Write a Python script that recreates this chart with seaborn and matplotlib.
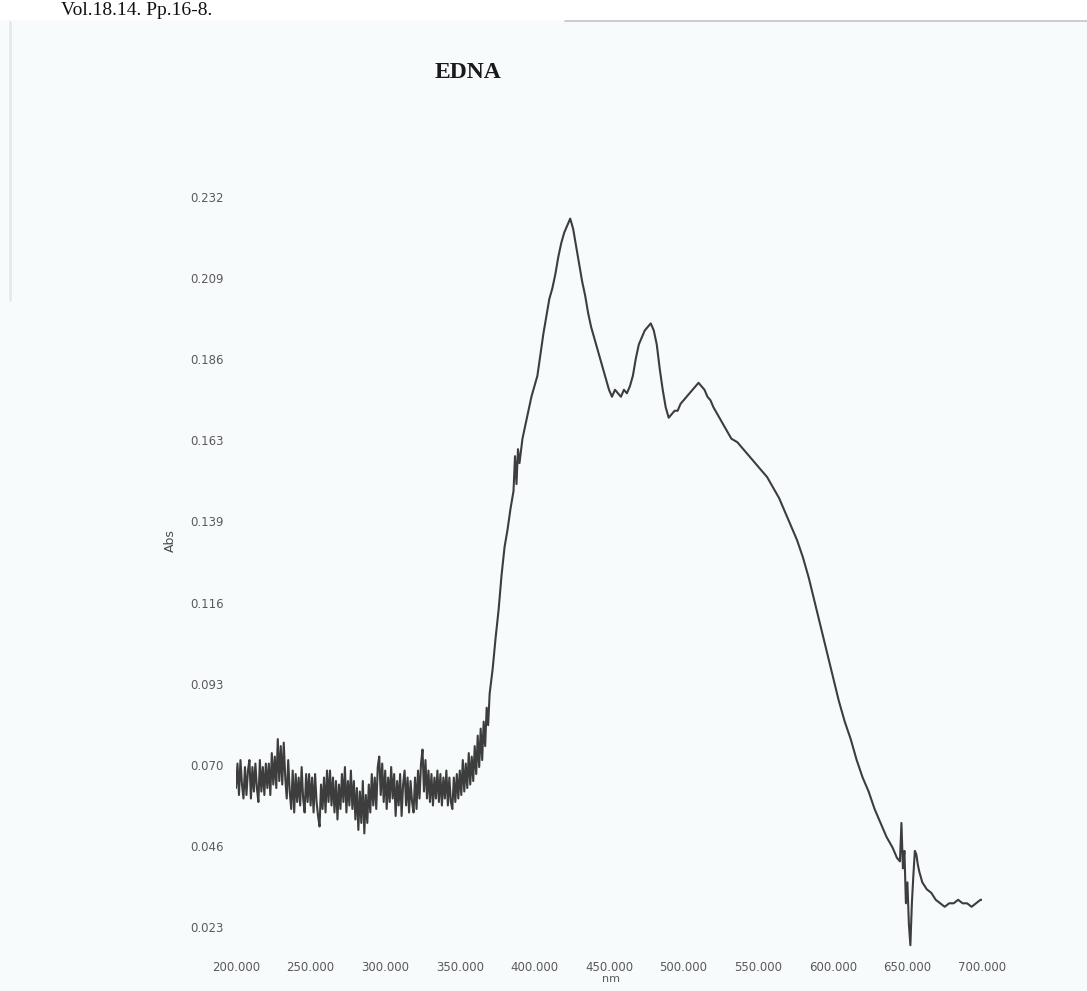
import numpy as np
import pandas as pd
import matplotlib
matplotlib.use("Agg")
import matplotlib.pyplot as plt
from matplotlib.patches import Rectangle
from matplotlib.lines import Line2D
import seaborn as sns

# ---- spectrum data -------------------------------------------------------
# noisy baseline, 200-370 nm sampled every 1 nm
baseline_start_nm = 200
baseline_step_nm = 1
baseline_abs = [
    0.063, 0.070, 0.061, 0.071, 0.064, 0.060, 0.069, 0.061, 0.068, 0.071,
    0.060, 0.069, 0.062, 0.070, 0.063, 0.059, 0.071, 0.062, 0.069, 0.061,
    0.070, 0.063, 0.070, 0.061, 0.073, 0.064, 0.072, 0.063, 0.077, 0.065,
    0.075, 0.064, 0.076, 0.066, 0.060, 0.071, 0.062, 0.057, 0.068, 0.056,
    0.067, 0.059, 0.066, 0.058, 0.069, 0.060, 0.056, 0.067, 0.059, 0.067,
    0.058, 0.066, 0.056, 0.067, 0.059, 0.055, 0.052, 0.064, 0.057, 0.066,
    0.056, 0.068, 0.059, 0.068, 0.058, 0.066, 0.056, 0.065, 0.054, 0.064,
    0.057, 0.067, 0.059, 0.069, 0.056, 0.065, 0.058, 0.068, 0.057, 0.065,
    0.054, 0.063, 0.051, 0.062, 0.053, 0.065, 0.050, 0.061, 0.053, 0.064,
    0.056, 0.067, 0.058, 0.066, 0.057, 0.069, 0.072, 0.061, 0.070, 0.059,
    0.068, 0.057, 0.066, 0.059, 0.069, 0.060, 0.067, 0.055, 0.065, 0.058,
    0.067, 0.055, 0.064, 0.068, 0.058, 0.066, 0.056, 0.065, 0.059, 0.056,
    0.066, 0.057, 0.068, 0.060, 0.070, 0.074, 0.062, 0.071, 0.060, 0.068,
    0.059, 0.067, 0.058, 0.066, 0.060, 0.068, 0.059, 0.067, 0.058, 0.066,
    0.060, 0.068, 0.058, 0.066, 0.059, 0.057, 0.066, 0.059, 0.067, 0.060,
    0.068, 0.061, 0.071, 0.062, 0.070, 0.063, 0.073, 0.064, 0.072, 0.065,
    0.075, 0.067, 0.078, 0.069, 0.080, 0.071, 0.082, 0.075, 0.086, 0.081,
    0.090,
]

# absorption band, 372-640 nm
band_nm = [
    372, 374, 376, 378, 380, 382, 384, 386, 387, 388, 389, 390, 392, 394, 396,
    398, 400, 402, 404, 406, 408, 410, 412, 414, 416, 418, 420, 422, 424, 426,
    428, 430, 432, 434, 436, 438, 440, 442, 444, 446, 448, 450, 452, 454, 456,
    458, 460, 462, 464, 466, 468, 470, 472, 474, 476, 478, 480, 482, 484, 486,
    488, 490, 492, 494, 496, 498, 500, 502, 504, 506, 508, 510, 512, 514, 516,
    518, 520, 524, 528, 532, 536, 540, 544, 548, 552, 556, 560, 564, 568, 572,
    576, 580, 584, 588, 592, 596, 600, 604, 608, 612, 616, 620, 624, 628, 632,
    636, 640,
]
band_abs = [
    0.097, 0.106, 0.114, 0.124, 0.132, 0.137, 0.143, 0.148, 0.158, 0.150, 0.160,
    0.156, 0.163, 0.167, 0.171, 0.175, 0.178, 0.181, 0.187, 0.193, 0.198, 0.203,
    0.206, 0.210, 0.215, 0.219, 0.222, 0.224, 0.226, 0.223, 0.218, 0.213, 0.208,
    0.204, 0.199, 0.195, 0.192, 0.189, 0.186, 0.183, 0.180, 0.177, 0.175, 0.177,
    0.176, 0.175, 0.177, 0.176, 0.178, 0.181, 0.186, 0.190, 0.192, 0.194, 0.195,
    0.196, 0.194, 0.190, 0.183, 0.177, 0.172, 0.169, 0.170, 0.171, 0.171, 0.173,
    0.174, 0.175, 0.176, 0.177, 0.178, 0.179, 0.178, 0.177, 0.175, 0.174, 0.172,
    0.169, 0.166, 0.163, 0.162, 0.160, 0.158, 0.156, 0.154, 0.152, 0.149, 0.146,
    0.142, 0.138, 0.134, 0.129, 0.123, 0.116, 0.109, 0.102, 0.095, 0.088, 0.082,
    0.077, 0.071, 0.066, 0.062, 0.057, 0.053, 0.049, 0.046,
]

# lamp-change artefact and tail, 643-700 nm
tail_nm = [643, 645, 646, 647, 648, 649, 650, 651, 652, 653, 654, 655, 656, 657,
           658, 660, 663, 666, 669, 672, 675, 678, 681, 684, 687, 690, 693, 696,
           699, 700]
tail_abs = [0.043, 0.042, 0.053, 0.040, 0.045, 0.030, 0.036, 0.024, 0.018, 0.030,
            0.038, 0.045, 0.044, 0.041, 0.039, 0.036, 0.034, 0.033, 0.031, 0.030,
            0.029, 0.030, 0.030, 0.031, 0.030, 0.030, 0.029, 0.030, 0.031, 0.031]

x_tick_values = [200, 250, 300, 350, 400, 450, 500, 550, 600, 650, 700]
x_tick_labels = ["200.000", "250.000", "300.000", "350.000", "400.000", "450.000",
                 "500.000", "550.000", "600.000", "650.000", "700.000"]
y_tick_values = [0.0232, 0.0464, 0.0697, 0.0929, 0.1161, 0.1393, 0.1626,
                 0.1858, 0.2090, 0.2322]
y_tick_labels = ["0.023", "0.046", "0.070", "0.093", "0.116", "0.139", "0.163",
                 "0.186", "0.209", "0.232"]

baseline_nm = list(range(baseline_start_nm,
                         baseline_start_nm + baseline_step_nm * len(baseline_abs),
                         baseline_step_nm))
spectrum = pd.DataFrame({
    "nm": baseline_nm + band_nm + tail_nm,
    "Abs": baseline_abs + band_abs + tail_abs,
})

# ---- figure ---------------------------------------------------------------
sns.set_style("white")
plt.rcParams["font.family"] = ["DejaVu Sans"]

W, H = 1087, 991
fig = plt.figure(figsize=(W / 100, H / 100), dpi=100)
fig.patch.set_facecolor("#f8fbfc")

# white page strip at the top with the running citation line
fig.patches.append(Rectangle((0, 1 - 20 / H), 1, 20 / H, transform=fig.transFigure,
                             facecolor="white", edgecolor="none", zorder=0))
fig.lines.append(Line2D([565 / W, 1.0], [1 - 21 / H, 1 - 21 / H],
                        transform=fig.transFigure, color="#c2c5c7", linewidth=1.2))
fig.lines.append(Line2D([10 / W, 10 / W], [1 - 22 / H, 1 - 300 / H],
                        transform=fig.transFigure, color="#e6e9ea", linewidth=2))
fig.text(61 / W, 1 - 15 / H, "Vol.18.14. Pp.16-8.", family="Liberation Serif",
         fontsize=14, color="#111111", ha="left", va="baseline")

ax = fig.add_axes([236 / W, 1 - 955.7 / H, 746 / W, 786 / H])
ax.set_facecolor("none")

sns.lineplot(data=spectrum, x="nm", y="Abs", ax=ax, estimator=None, sort=False,
             color="#3d3d3d", linewidth=1.5)

ax.set_xlim(200, 700)
ax.set_ylim(0.015, 0.240)
ax.set_xticks(x_tick_values)
ax.set_xticklabels(x_tick_labels)
ax.set_yticks(y_tick_values)
ax.set_yticklabels(y_tick_labels)
ax.tick_params(axis="both", length=0, labelsize=8.5, labelcolor="#5a5a5a")
ax.tick_params(axis="x", pad=4)
ax.tick_params(axis="y", pad=9)
for s in ax.spines.values():
    s.set_visible(False)
ax.grid(False)

ax.set_xlabel("nm", fontsize=8, color="#5a5a5a")
ax.xaxis.set_label_coords((611 - 236) / 746, (955.7 - 974) / 786)
ax.set_ylabel("Abs", fontsize=9, color="#4a4a4a")
ax.yaxis.label.set_va("center")
ax.yaxis.label.set_ha("center")
ax.yaxis.set_label_coords((170 - 236) / 746, (955.7 - 541) / 786)

fig.text(468 / W, 1 - 72 / H, "EDNA", family="Liberation Serif", weight="bold",
         fontsize=17, color="#1a1a1a", ha="center", va="center")

fig.savefig("out.png", dpi=100, facecolor=fig.get_facecolor())
